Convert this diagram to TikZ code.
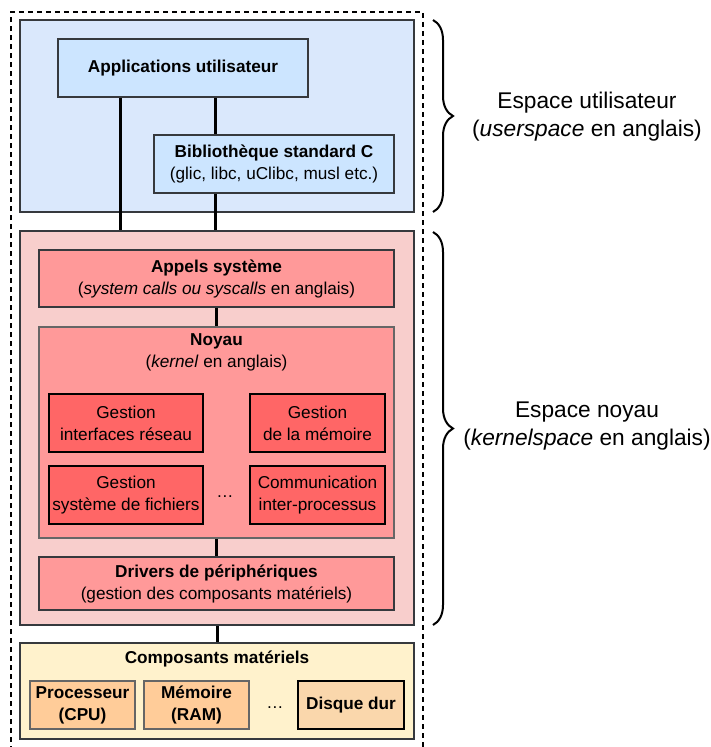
\documentclass[tikz,border=0pt]{standalone}
\usepackage{fontspec}
\setmainfont{Liberation Sans}
\usetikzlibrary{decorations.pathreplacing}
\definecolor{userfill}{HTML}{DAE8FC}
\definecolor{appfill}{HTML}{CCE5FF}
\definecolor{kernfill}{HTML}{F8CECC}
\definecolor{callfill}{HTML}{FF9999}
\definecolor{gestfill}{HTML}{FF6666}
\definecolor{hwfill}{HTML}{FFF2CC}
\definecolor{cpufill}{HTML}{FFCC99}
\definecolor{diskfill}{HTML}{FAD7AC}
\definecolor{edge}{HTML}{36393D}
\def\boxfont{\fontsize{17.2}{22}\selectfont}
\def\bigfont{\fontsize{22.7}{28}\selectfont}
\tikzset{
  zone/.style={draw=edge, line width=1.5pt, inner sep=0pt},
  block/.style={draw=edge, line width=1.5pt, align=center, font=\boxfont, inner sep=0pt},
  subblock/.style={block, draw=black, fill=gestfill},
  part/.style={block, draw=black!60, fill=cpufill},
  link/.style={line width=3pt},
  side/.style={align=center, font=\bigfont},
  accolade/.style={decorate, decoration={brace, amplitude=20pt}, line width=2pt},
}

\begin{document}
\begin{tikzpicture}[x=1pt, y=-1pt]
			%%%%% START %%%%%
			\useasboundingbox (0, 0) rectangle (711, 747);
			
			\draw[dashed, line width=1.5pt, dash pattern=on 5pt off 4pt] (11, 760) -- (11, 12) -- (423, 12) -- (423, 760);
			
			% espace utilisateur
			\node[zone, fill=userfill, minimum width=394, minimum height=192] (uspace) at (217, 116) {};
			\node[block, fill=appfill, minimum width=250, minimum height=58] (apps) at (183, 68) {\bfseries Applications utilisateur};
			\node[block, fill=appfill, minimum width=240, minimum height=58] (libc) at (274, 164) {\bfseries Bibliothèque standard C\\(glic, libc, uClibc, musl etc.)};
			
			% espace noyau
			\node[zone, fill=kernfill, minimum width=394, minimum height=394] (kspace) at (217, 428) {};
			\node[block, fill=callfill, minimum width=355, minimum height=57] (calls) at (216.5, 278.5) {\bfseries Appels système\\(\textit{system calls ou syscalls} en anglais)};
			\node[block, draw=black!60, fill=callfill, minimum width=355, minimum height=211] (noyau) at (216.5, 432.5) {};
			\node[align=center, font=\boxfont, inner sep=0pt] (noyaulbl) at (216.5, 352) {\bfseries Noyau\\(\textit{kernel} en anglais)};
			\node[subblock, minimum width=154, minimum height=58] (net) at (126, 423) {Gestion\\interfaces réseau};
			\node[subblock, minimum width=135, minimum height=58] (mem) at (317.5, 423) {Gestion\\de la mémoire};
			\node[subblock, minimum width=154, minimum height=58] (fs) at (126, 495) {Gestion\\système de fichiers};
			\node[subblock, minimum width=135, minimum height=58] (ipc) at (317.5, 495) {Communication\\inter-processus};
			\node[font=\boxfont, inner sep=0pt] (dotsk) at (225, 497) {\dots};
			\node[block, fill=callfill, minimum width=355, minimum height=53] (drivers) at (216.5, 583.5) {\bfseries Drivers de périphériques\\(gestion des composants matériels)};
			
			% composants materiels
			\node[zone, fill=hwfill, minimum width=394, minimum height=96] (hw) at (217, 691) {};
			\node[font=\boxfont\bfseries, inner sep=0pt] (hwlbl) at (217, 659) {Composants matériels};
			\node[part, minimum width=105, minimum height=48] (cpu) at (82.5, 705) {\bfseries Processeur\\\bfseries (CPU)};
			\node[part, minimum width=105, minimum height=48] (ram) at (196.5, 705) {\bfseries Mémoire\\\bfseries (RAM)};
			\node[font=\boxfont, inner sep=0pt] (dotsh) at (275, 708) {\dots};
			\node[block, draw=black, line width=2pt, fill=diskfill, minimum width=106, minimum height=48] (disk) at (351, 705) {\bfseries Disque dur};
			
			% liaisons
			\coordinate (xa) at (120, 0);
			\coordinate (xb) at (215, 0);
			\draw[link] (apps.south -| xa) -- (kspace.north -| xa);
			\draw[link] (apps.south -| xb) -- (libc.north -| xb);
			\draw[link] (libc.south -| xb) -- (kspace.north -| xb);
			\draw[link] (calls.south) -- (noyau.north);
			\draw[link] (noyau.south) -- (drivers.north);
			\draw[link] (kspace.south) -- (hw.north);
			
			% accolades
			\draw[accolade] (433, 20) -- (433, 212);
			\draw[accolade] (433, 232) -- (433, 625);
			\node[side] (ulbl) at (587, 117) {Espace utilisateur\\(\textit{userspace} en anglais)};
			\node[side] (klbl) at (587, 426) {Espace noyau\\(\textit{kernelspace} en anglais)};
			
			%%%%% END %%%%%
		\end{tikzpicture}
\end{document}
